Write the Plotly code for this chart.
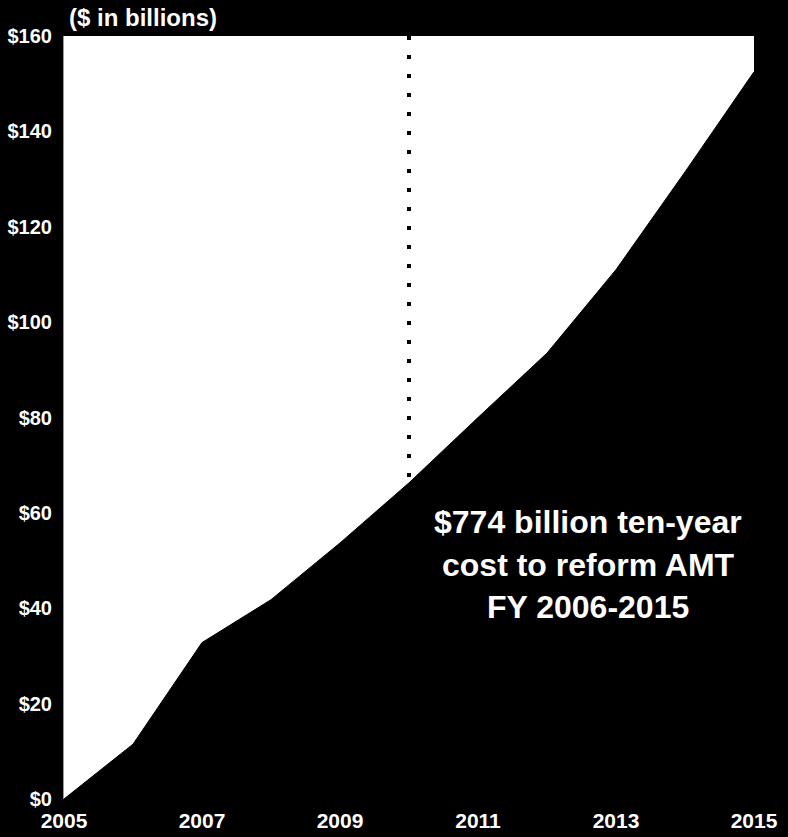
import plotly.graph_objects as go

# AMT reform cost by fiscal year ($ billions)
years = [2005, 2006, 2007, 2008, 2009, 2010, 2011, 2012, 2013, 2014, 2015]
cost = [0, 11.5, 32.8, 41.8, 53.7, 66.3, 80.0, 93.5, 111.0, 131.5, 152.5]

tick_years = [2005, 2007, 2009, 2011, 2013, 2015]
tick_dollars = [0, 20, 40, 60, 80, 100, 120, 140, 160]
tick_dollar_labels = ["$" + str(v) for v in tick_dollars]

marker_year = 2010
y_max = 160
note_lines = ["$774 billion ten-year", "cost to reform AMT", "FY 2006-2015"]
note_y = [58.0, 49.0, 40.2]
note_x = 2012.6

FONT = "Arial, Liberation Sans, sans-serif"

fig = go.Figure()

# black area under the cost curve
fig.add_trace(go.Scatter(
    x=years, y=cost, mode="lines",
    line=dict(color="black", width=1),
    fill="tozeroy", fillcolor="black",
    hoverinfo="skip", showlegend=False,
))

# dotted divider at 2010, from the top of the chart down to the curve
marker_val = cost[years.index(marker_year)]
fig.add_trace(go.Scatter(
    x=[marker_year, marker_year], y=[y_max, marker_val], mode="lines",
    line=dict(color="black", width=4, dash="4px,15px"),
    hoverinfo="skip", showlegend=False,
))

for txt, yy in zip(note_lines, note_y):
    fig.add_annotation(
        x=note_x, y=yy, xref="x", yref="y", text=txt, showarrow=False,
        font=dict(family=FONT, size=32, color="white", weight="bold"),
        xanchor="center", yanchor="middle",
    )

fig.add_annotation(
    x=0, y=1, xref="paper", yref="paper", text="($ in billions)",
    showarrow=False, xanchor="left", yanchor="bottom", xshift=3, yshift=3,
    font=dict(family=FONT, size=24, color="white", weight="bold"),
)

fig.update_layout(
    width=788, height=837,
    paper_bgcolor="black", plot_bgcolor="white",
    margin=dict(l=64, r=34, t=36, b=38),
    showlegend=False,
    xaxis=dict(
        range=[2005, 2015], tickmode="array", tickvals=tick_years,
        ticktext=[str(y) for y in tick_years],
        showgrid=False, zeroline=False, showline=False, ticks="",
        ticklabelstandoff=7, automargin=False,
        tickfont=dict(family=FONT, size=21, color="white", weight="bold"),
    ),
    yaxis=dict(
        range=[0, y_max], tickmode="array", tickvals=tick_dollars,
        ticktext=tick_dollar_labels,
        showgrid=False, zeroline=False, showline=True, linecolor="#999999",
        linewidth=1, ticks="", ticklabelstandoff=7, automargin=False,
        tickfont=dict(family=FONT, size=20, color="white", weight="bold"),
    ),
)

fig.write_html("out.html")
